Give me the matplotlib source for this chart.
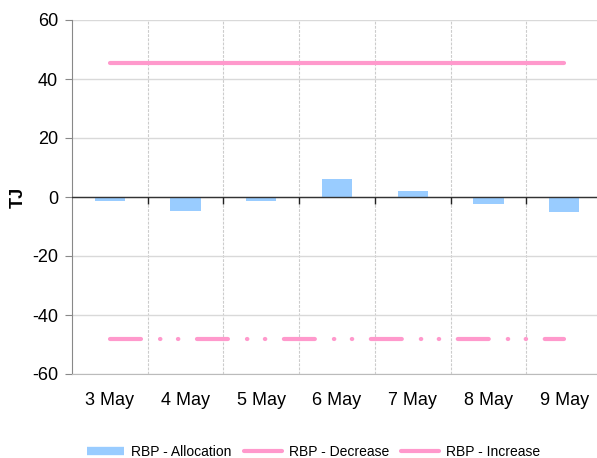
import matplotlib.pyplot as plt
from matplotlib.lines import Line2D
from matplotlib.markers import TICKDOWN
import numpy as np

# data
days = ['3 May', '4 May', '5 May', '6 May', '7 May', '8 May', '9 May']
allocation = [-1.4, -4.8, -1.4, 6.2, 2.0, -2.5, -5.0]
decrease = [-48, -48, -48, -48, -48, -48, -48]
increase = [45.5, 45.5, 45.5, 45.5, 45.5, 45.5, 45.5]

blue = '#99CCFF'
pink = '#FF99CC'

plt.rcParams['font.family'] = ['Liberation Sans', 'DejaVu Sans']
plt.rcParams['lines.scale_dashes'] = False
plt.rcParams['axes.unicode_minus'] = False

fig = plt.figure(figsize=(5.97, 4.58), dpi=100, facecolor='w')
ax = fig.add_axes([72/597, 1-374/458, 530/597, 354/458])

x = np.arange(len(days))
ax.bar(x, allocation, 0.4, color=blue, zorder=3)
ax.plot(x, increase, '-', color=pink, lw=3, solid_capstyle='round', zorder=4)
ax.plot(x, decrease, color=pink, lw=3, dash_capstyle='round', zorder=4,
        linestyle=(0, (22.3, 13.7, 0.3, 12.6, 0.3, 13.4)))

# zero axis line with tick marks at the category boundaries
ax.axhline(0, color='#333333', lw=1, zorder=3.5)
bounds = x[:-1] + 0.5
ax.plot(bounds, np.zeros_like(bounds), ls='none', marker=TICKDOWN,
        ms=5, mew=1, color='#222222', zorder=3.5, clip_on=False)

ax.set_xlim(-0.5, 6.5)
ax.set_ylim(-60, 60)
ax.set_yticks(np.arange(-60, 61, 20))
ax.set_xticks(x)
ax.set_xticklabels(days, fontsize=13)
ax.tick_params(axis='x', length=0, pad=13)
ax.tick_params(axis='y', labelsize=13, length=5, color='#888888', pad=5)
ax.set_xticks(bounds, minor=True)
ax.tick_params(axis='x', which='minor', length=0)

ax.grid(axis='y', color='#D9D9D9', lw=1, zorder=0)
ax.grid(axis='x', which='minor', color='#CCCCCC', lw=0.8, ls=(0, (2, 1)), zorder=0)

for s in ['top', 'right']:
    ax.spines[s].set_visible(False)
ax.spines['left'].set_color('#888888')
ax.spines['bottom'].set_color('#BBBBBB')

ax.set_ylabel('TJ', fontsize=13, fontweight='bold', labelpad=4)

handles = [Line2D([0], [0], color=blue, lw=6, solid_capstyle='butt'),
           Line2D([0], [0], color=pink, lw=3, solid_capstyle='round'),
           Line2D([0], [0], color=pink, lw=3, solid_capstyle='round')]
fig.legend(handles, ['RBP - Allocation', 'RBP - Decrease', 'RBP - Increase'],
           loc='center', bbox_to_anchor=(0.525, 1-452/458), ncol=3, frameon=False,
           fontsize=10, handlelength=2.7, handletextpad=0.5, columnspacing=0.9)

fig.savefig('out.png', dpi=100)
